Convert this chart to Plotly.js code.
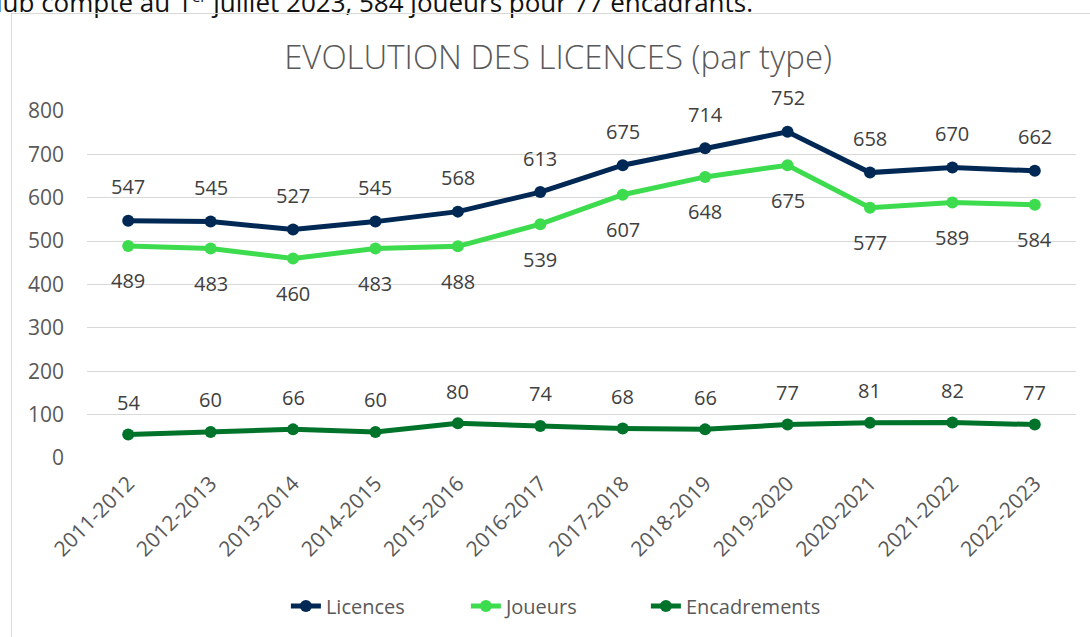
<!DOCTYPE html>
<html>
<head>
<meta charset="utf-8">
<script src="https://cdn.plot.ly/plotly-3.0.1.min.js"></script>
<style>
  html, body { margin: 0; padding: 0; width: 1090px; height: 637px; overflow: hidden; background: #fff; }
  #topText { position: absolute; left: -4px; top: -17px; font-family: "Open Sans", sans-serif; font-size: 26px; line-height: 26px; color: #111; white-space: nowrap; }
  #frame { position: absolute; left: 11px; top: 13px; width: 1200px; height: 700px; border: 1px solid #d9d9d9; box-sizing: border-box; }
  #chart { position: absolute; left: 0; top: 0; width: 1090px; height: 637px; }
</style>
</head>
<body>
<div id="topText">lub compte au 1<sup style="font-size:15px">er</sup> juillet 2023, 584 joueurs pour 77 encadrants.</div>
<div id="frame"></div>
<div id="chart"></div>
<script>
const categories = ["2011-2012","2012-2013","2013-2014","2014-2015","2015-2016","2016-2017","2017-2018","2018-2019","2019-2020","2020-2021","2021-2022","2022-2023"];
const licences = [547,545,527,545,568,613,675,714,752,658,670,662];
const joueurs = [489,483,460,483,488,539,607,648,675,577,589,584];
const encadrements = [54,60,66,60,80,74,68,66,77,81,82,77];
const yTicks = [0,100,200,300,400,500,600,700,800];

const colors = { lic: "#002855", jou: "#3ddc4e", enc: "#00732a" };
const FONT = "'Open Sans', sans-serif";

function series(name, vals, color) {
  return {
    type: "scatter", mode: "lines+markers", name: name,
    x: categories, y: vals,
    line: { color: color, width: 5 },
    marker: { color: color, size: 12 },
    cliponaxis: false
  };
}

const data = [
  series("Licences", licences, colors.lic),
  series("Joueurs", joueurs, colors.jou),
  series("Encadrements", encadrements, colors.enc)
];

const labelFont = { family: FONT, size: 20, color: "#404040" };
const annotations = [];
function addLabels(vals, shift) {
  vals.forEach((v, i) => {
    annotations.push({
      x: categories[i], y: v, text: String(v), showarrow: false,
      yshift: shift, yanchor: "middle", xanchor: "center", font: labelFont
    });
  });
}
addLabels(licences, 34);
addLabels(joueurs, -35);
addLabels(encadrements, 32);

const layout = {
  width: 1090, height: 637,
  paper_bgcolor: "rgba(0,0,0,0)", plot_bgcolor: "rgba(0,0,0,0)",
  margin: { l: 87, r: 14, t: 111, b: 179 },
  title: {
    text: "EVOLUTION DES LICENCES (par type)",
    font: { family: FONT, size: 33, color: "#595959", weight: 300 },
    xref: "container", x: 0.512, xanchor: "center",
    yref: "container", y: 1 - 57/637, yanchor: "middle"
  },
  xaxis: {
    type: "category", range: [-0.5, 11.5],
    showgrid: false, zeroline: false, showline: false,
    ticks: "", tickangle: -45, ticklabelstandoff: 8,
    tickfont: { family: FONT, size: 21, color: "#595959" }
  },
  yaxis: {
    range: [0, 800], tickvals: yTicks, ticktext: yTicks.map(String),
    showgrid: true, gridcolor: "#d9d9d9", gridwidth: 1,
    zeroline: false, showline: false, ticks: "",
    ticklabelstandoff: 22,
    tickfont: { family: FONT, size: 21, color: "#595959" }
  },
  showlegend: true,
  legend: {
    orientation: "h", xref: "container", yref: "container",
    x: 0.51, xanchor: "center", y: 1 - 606/637, yanchor: "middle",
    font: { family: FONT, size: 20, color: "#595959" },
    entrywidth: 135, bgcolor: "rgba(0,0,0,0)"
  },
  annotations: annotations
};

Plotly.newPlot("chart", data, layout, { displayModeBar: false, staticPlot: true });
</script>
</body>
</html>
